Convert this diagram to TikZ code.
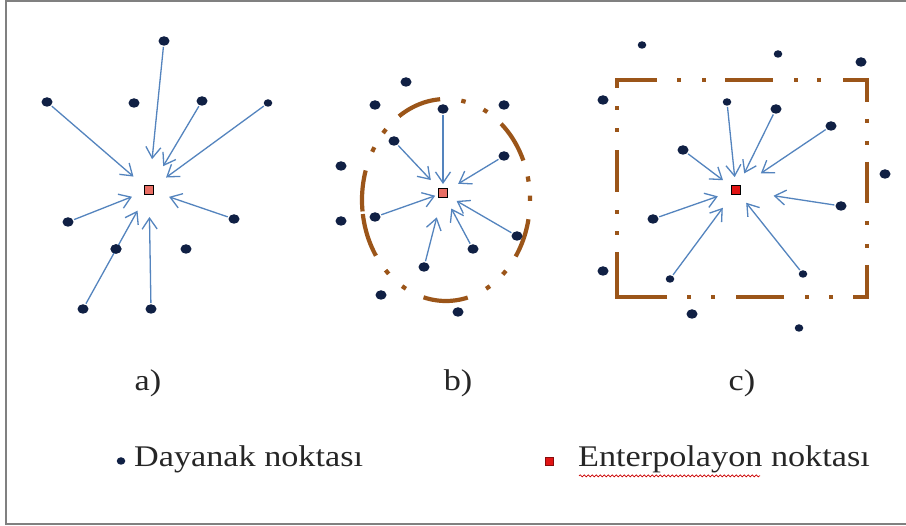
\documentclass[tikz,border=0pt]{standalone}
\usepackage{fontspec}
\setmainfont[FakeStretch=1.14]{Liberation Serif}
\usetikzlibrary{arrows.meta,shapes.geometric,decorations.pathmorphing}

\definecolor{dotnavy}{RGB}{16,32,68}
\definecolor{arrowblue}{RGB}{84,132,190}
\definecolor{rimbrown}{RGB}{155,85,25}
\definecolor{framegray}{RGB}{128,128,128}
\definecolor{salmonred}{RGB}{232,110,100}
\definecolor{brightred}{RGB}{225,20,20}

\tikzset{
  base/.style={shape=ellipse, fill=dotnavy, inner sep=0pt, minimum width=11pt, minimum height=9.5pt},
  small base/.style={base, minimum width=8.5pt, minimum height=7.5pt},
  interp/.style={shape=rectangle, draw=black, line width=0.9pt, inner sep=0pt, minimum size=9pt, fill=salmonred},
  arr/.style={draw=arrowblue, line width=1.3pt, -{Straight Barb[length=11pt,width=15pt,line width=1.3pt]}, shorten <=1pt},
  rim/.style={draw=rimbrown, line width=4.2pt, line cap=butt, line join=miter},
  caption/.style={font=\fontsize{30}{34}\selectfont, inner sep=0pt, text=black!85},
}
% one piece of the dash-dot-dot ellipse (centre 446,200; radii 84, 101)
\newcommand\rimarc[2]{\draw[rim] plot[domain=#1:#2, samples=24, smooth] ({446+84*cos(\x)},{200+101*sin(\x)});}

\begin{document}
\begin{tikzpicture}[x=1pt, y=-1pt]
\useasboundingbox (0,0) rectangle (906,526);
\fill[white] (0,0) rectangle (906,526);
% outer frame
\draw[framegray, line width=2pt] (912,1) -- (6,1) -- (6,524) -- (912,524);

% ---------------- a) ----------------
\node[interp] (ca) at (149,190) {};
\node[base] (a1) at (164,41) {};
\node[base] (a2) at (47,102) {};
\node[base] (a3) at (134,103) {};
\node[base] (a4) at (202,101) {};
\node[small base] (a5) at (268,103) {};
\node[base] (a6) at (68,222) {};
\node[base] (a7) at (234,219) {};
\node[base] (a8) at (116,249) {};
\node[base] (a9) at (186,249) {};
\node[base] (a10) at (83,309) {};
\node[base] (a11) at (151,309) {};
\draw[arr, shorten >=26pt] (a1) -- (ca);
\draw[arr, shorten >=14pt] (a2) -- (ca);
\draw[arr, shorten >=22pt] (a4) -- (ca);
\draw[arr, shorten >=15pt] (a5) -- (ca);
\draw[arr, shorten >=13pt] (a6) -- (ca);
\draw[arr, shorten >=16pt] (a7) -- (ca);
\draw[arr, shorten >=18pt] (a10) -- (ca);
\draw[arr, shorten >=22pt] (a11) -- (ca);
\node[base] at (a8) {};

% ---------------- b) ----------------
% dash-dot-dot ellipse, drawn piece by piece
\rimarc{146.5}{172}
\rimarc{173.5}{197}
\rimarc{208.5}{211.5}
\rimarc{221.5}{224.5}
\rimarc{236}{266}
\rimarc{280.5}{283.5}
\rimarc{296.5}{299.5}
\rimarc{311}{337}
\rimarc{346.5}{349.5}
\rimarc{357.5}{360.5}
\rimarc{11}{34}
\rimarc{44.5}{47.5}
\rimarc{58.5}{61.5}
\rimarc{75}{105.5}
\rimarc{118.5}{121.5}
\rimarc{133}{136}

\node[interp] (cb) at (443,193) {};
\node[base] (b1) at (406,82) {};
\node[base] (b2) at (375,105) {};
\node[base] (b3) at (443,109) {};
\node[base] (b4) at (504,105) {};
\node[base] (b5) at (394,141) {};
\node[base] (b6) at (504,156) {};
\node[base] (b7) at (341,166) {};
\node[base] (b8) at (341,221) {};
\node[base] (b9) at (375,217) {};
\node[base] (b10) at (517,236) {};
\node[base] (b11) at (473,249) {};
\node[base] (b12) at (424,267) {};
\node[base] (b13) at (381,295) {};
\node[base] (b14) at (458,312) {};
\draw[arr, shorten >=4pt] (b3) -- (cb);
\draw[arr, shorten >=11pt] (b5) -- (cb);
\draw[arr, shorten >=12pt] (b6) -- (cb);
\draw[arr, shorten >=3pt] (b9) -- (cb);
\draw[arr, shorten >=10pt] (b10) -- (cb);
\draw[arr, shorten >=12pt] (b11) -- (cb);
\draw[arr, shorten >=20pt] (b12) -- (cb);

% ---------------- c) ----------------
% dash-dot-dot frame, drawn piece by piece
\draw[rim] (617,88) -- (617,80) -- (657,80);
\draw[rim] (677,80) -- (681,80);
\draw[rim] (702,80) -- (706,80);
\draw[rim] (725,80) -- (773,80);
\draw[rim] (794,80) -- (798,80);
\draw[rim] (817,80) -- (821,80);
\draw[rim] (843,80) -- (867,80) -- (867,102);
\draw[rim] (867,119) -- (867,123);
\draw[rim] (867,141) -- (867,145);
\draw[rim] (867,162) -- (867,203);
\draw[rim] (867,221) -- (867,225);
\draw[rim] (867,244) -- (867,248);
\draw[rim] (867,265) -- (867,297) -- (853,297);
\draw[rim] (833,297) -- (829,297);
\draw[rim] (809,297) -- (805,297);
\draw[rim] (784,297) -- (736,297);
\draw[rim] (715,297) -- (711,297);
\draw[rim] (691,297) -- (687,297);
\draw[rim] (667,297) -- (617,297) -- (617,252);
\draw[rim] (617,235) -- (617,231);
\draw[rim] (617,214) -- (617,210);
\draw[rim] (617,192) -- (617,150);
\draw[rim] (617,132) -- (617,128);
\draw[rim] (617,110) -- (617,106);

\node[interp, fill=brightred] (cc) at (736,190) {};
\node[small base] (c1) at (642,45) {};
\node[small base] (c2) at (778,54) {};
\node[base] (c3) at (861,62) {};
\node[base] (c4) at (603,100) {};
\node[small base] (c5) at (727,102) {};
\node[base] (c6) at (776,109) {};
\node[base] (c7) at (831,126) {};
\node[base] (c8) at (683,150) {};
\node[base] (c9) at (885,174) {};
\node[base] (c10) at (841,206) {};
\node[base] (c11) at (653,219) {};
\node[base] (c12) at (603,271) {};
\node[small base] (c13) at (670,279) {};
\node[small base] (c14) at (803,274) {};
\node[base] (c15) at (692,314) {};
\node[small base] (c16) at (799,328) {};
\draw[arr, shorten >=8pt] (c5) -- (cc);
\draw[arr, shorten >=13pt] (c6) -- (cc);
\draw[arr, shorten >=24pt] (c7) -- (cc);
\draw[arr, shorten >=10pt] (c8) -- (cc);
\draw[arr, shorten >=33pt] (c10) -- (cc);
\draw[arr, shorten >=14pt] (c11) -- (cc);
\draw[arr, shorten >=16pt] (c13) -- (cc);
\draw[arr, shorten >=10pt] (c14) -- (cc);

% ---------------- captions ----------------
\node[caption] (la) at (148,383) {a)};
\node[caption] (lb) at (458,383) {b)};
\node[caption] (lc) at (742,383) {c)};

% ---------------- legend ----------------
\node[small base] (kb) at (121,461) {};
\node[caption, anchor=west] (kbt) at (134,459) {Dayanak noktası};
\node[interp, fill=brightred, draw=brightred!60!black, line width=0.5pt, minimum size=8pt] (ki) at (549,461) {};
\node[caption, anchor=west] (kit) at (578,459) {Enterpolayon noktası};
\draw[red!80!black, line width=0.7pt, decorate, decoration={snake, amplitude=1pt, segment length=4pt}]
  ([xshift=1pt,yshift=-3pt]kit.south west) -- ([xshift=182pt,yshift=-3pt]kit.south west);
\end{tikzpicture}
\end{document}
